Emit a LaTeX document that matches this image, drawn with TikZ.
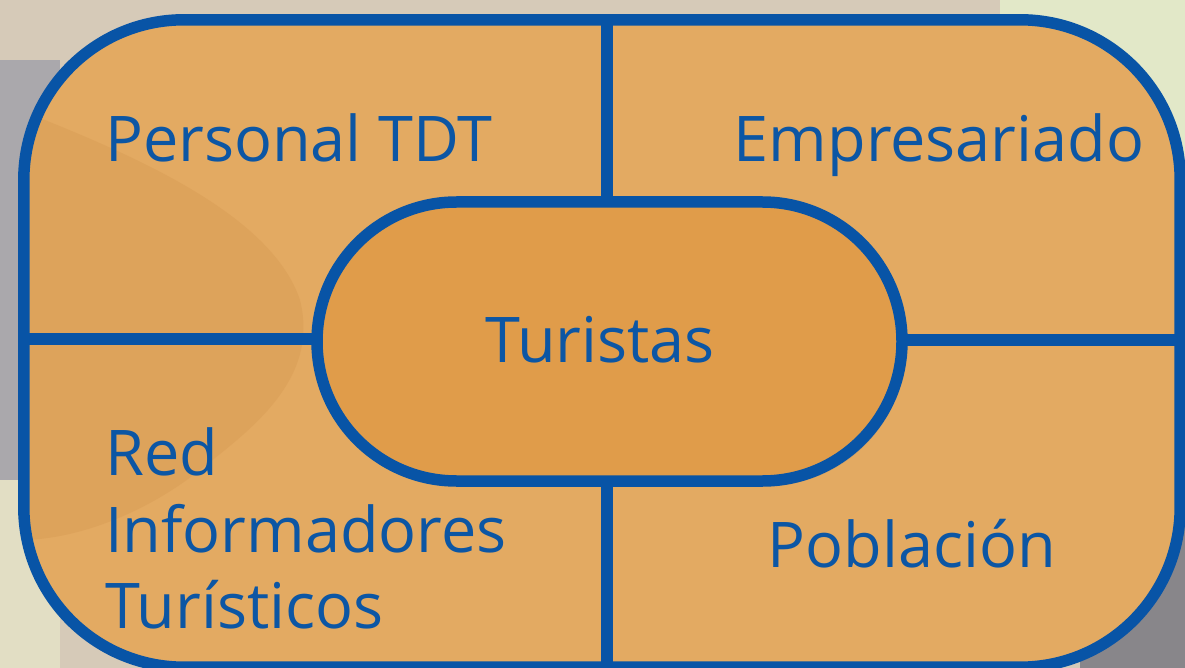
\documentclass[tikz,border=0pt]{standalone}
\usepackage{fontspec}
\setmainfont{Open Sans}
\usetikzlibrary{shadows}
\definecolor{bluebd}{RGB}{8,84,166}
\definecolor{bluetx}{RGB}{12,86,164}
\definecolor{orangein}{RGB}{227,170,98}
\definecolor{orangedk}{RGB}{212,150,80}
\definecolor{orangect}{RGB}{224,156,74}
\definecolor{bgtan}{RGB}{214,202,184}
\definecolor{bggreen}{RGB}{226,232,200}
\definecolor{bggrey}{RGB}{170,168,172}
\definecolor{bgpale}{RGB}{226,222,196}
\tikzset{
  border/.style={draw=bluebd, line width=11.5pt},
  divider/.style={draw=bluebd, line width=11.5pt},
  lbl/.style={text=bluetx, inner sep=0pt, font=\fontsize{63}{76}\selectfont},
}
\begin{document}
\begin{tikzpicture}[x=1pt,y=-1pt]
\useasboundingbox (0,0) rectangle (1185,668);
% background photo approximation
\fill[bgtan] (0,0) rectangle (1185,668);
\fill[bggreen] (1000,0) rectangle (1185,260);
\fill[bggrey] (0,60) rectangle (60,480);
\fill[bgpale] (0,480) rectangle (60,668);
\fill[bggrey!80!black] (1080,520) rectangle (1185,668);
% outer rounded frame (fill first)
\node[fill=orangein, rectangle, rounded corners=160pt,
      minimum width=1156pt, minimum height=647pt, inner sep=0pt] (outer) at (602,343.5) {};
% subtle darker region from photo
\begin{scope}
\clip[rounded corners=160pt] (outer.north west) rectangle (outer.south east);
\fill[orangedk, opacity=0.35] (20,110) .. controls (120,150) and (270,210) .. (300,300)
  .. controls (320,380) and (250,430) .. (200,470) .. controls (150,510) and (80,540) .. (20,540) -- cycle;
\end{scope}
\draw[border, rounded corners=160pt] (outer.north west) rectangle (outer.south east);
% dividers
\draw[divider] ([yshift=4.5pt]outer.west) -- ++(300,0) coordinate (lw);
\draw[divider] ([yshift=3.5pt]outer.east) -- ++(-300,0) coordinate (re);
\draw[divider] (607,20) coordinate (vt) -- (607,210);
\draw[divider] (607,470) -- (607,668) coordinate (vb);
% central stadium
\node[border, fill=orangect, rectangle, rounded corners=139.5pt,
      minimum width=585pt, minimum height=279pt, inner sep=0pt,
      drop shadow={shadow xshift=4pt, shadow yshift=-5pt, opacity=0.25}] (tur) at (609.5,341.5) {};
\node[lbl, anchor=base] (turtxt) at (600,362) {Turistas};
% labels
\node[lbl, anchor=base west] (personal) at (105,162) {Personal TDT};
\node[lbl, anchor=base] (empres) at (939,162) {Empresariado};
\node[lbl, anchor=base west] (red1) at (105,475) {Red};
\node[lbl, anchor=base west] (red2) at (105,552) {Informadores};
\node[lbl, anchor=base west] (red3) at (105,628) {Turísticos};
\node[lbl, anchor=base] (pobl) at (912,567) {Población};
\end{tikzpicture}
\end{document}
